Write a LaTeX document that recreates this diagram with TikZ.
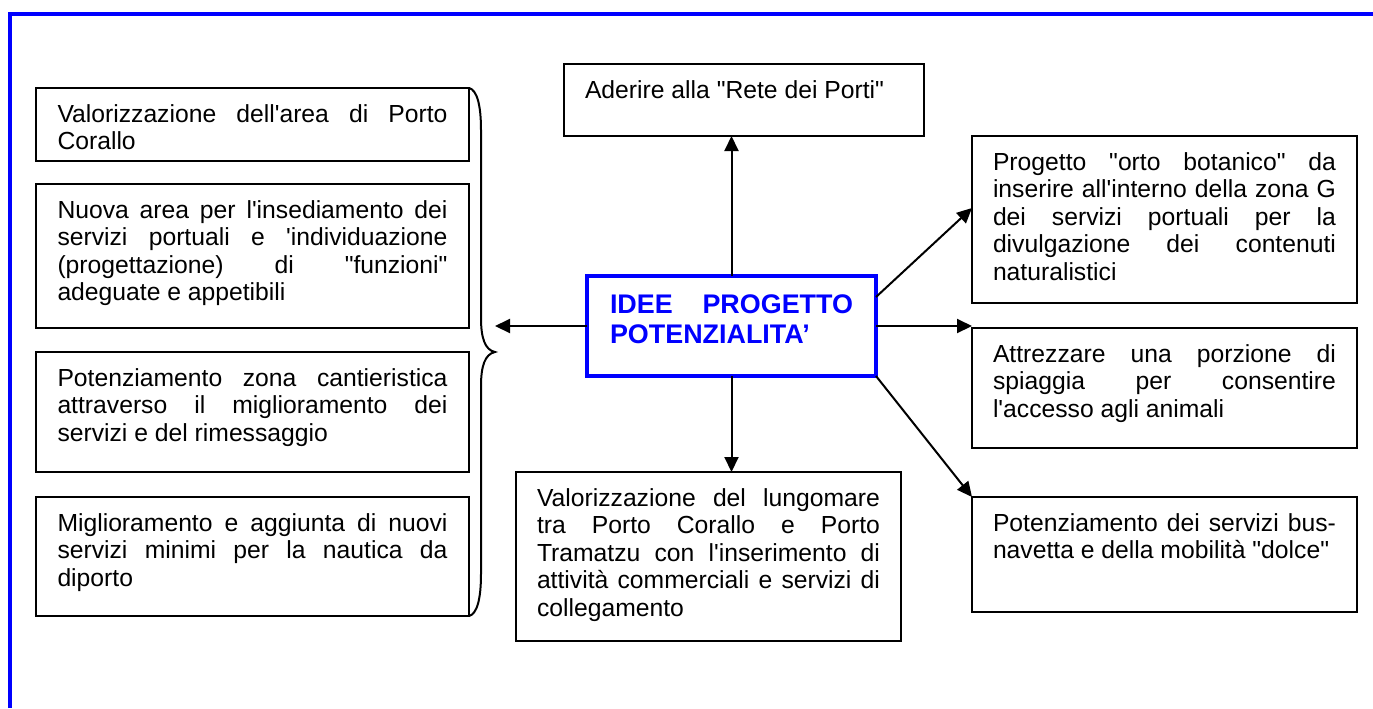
\documentclass[tikz,border=0pt]{standalone}
\usetikzlibrary{arrows.meta,calc}
\font\arialf="Liberation Sans" at 12.35pt
\font\arialbf="Liberation Sans/B" at 13.45pt
\newcommand\tb[3]{\parbox[t][#2][t]{#1}{\baselineskip=13.8pt\lineskiplimit=-20pt #3}}
\newcommand\jl[1]{\hbox to\linewidth{\rule{0pt}{9pt}#1}}
\newcommand\lastl[1]{\hbox to\linewidth{\rule{0pt}{9pt}#1\hfil}}
\begin{document}
\begin{tikzpicture}[x=0.5pt,y=-0.5pt,
  box/.style={draw, line width=1pt, anchor=north west, inner xsep=10.5pt, inner ysep=8pt, outer sep=0pt, font=\arialf},
  lbox/.style={box, inner xsep=10.75pt},
  cbox/.style={draw=blue, line width=1.7pt, text=blue, anchor=north west, inner xsep=11.5pt, inner ysep=8.5pt, outer sep=0pt, font=\arialbf},
  arr/.style={line width=1pt, -{Triangle[length=7.5pt,width=7pt]}},
  frame/.style={draw=blue, line width=2pt},
  brace/.style={line width=1pt}]
\useasboundingbox (0,0) rectangle (1373,708);
\draw[frame] (10,708) -- (10,14) -- (1373,14);

% left column
\node[lbox] (L1) at (36,88) {\tb{195pt}{20.5pt}{\jl{Valorizzazione dell'area di Porto}\lastl{Corallo}}};
\node[lbox] (L2) at (36,184) {\tb{195pt}{56pt}{\jl{Nuova area per l'insediamento dei}\jl{servizi portuali e 'individuazione}\jl{(progettazione) di "funzioni"}\lastl{adeguate e appetibili}}};
\node[lbox] (L3) at (36,352) {\tb{195pt}{44pt}{\jl{Potenziamento zona cantieristica}\jl{attraverso il miglioramento dei}\lastl{servizi e del rimessaggio}}};
\node[lbox] (L4) at (36,497) {\tb{195pt}{43.5pt}{\jl{Miglioramento e aggiunta di nuovi}\jl{servizi minimi per la nautica da}\lastl{diporto}}};

% top and bottom
\node[box] (T) at (564,64) {\tb{159pt}{20pt}{\lastl{Aderire alla "Rete dei Porti"}}};
\node[box] (B) at (516,472) {\tb{171.5pt}{68.5pt}{\jl{Valorizzazione del lungomare}\jl{tra Porto Corallo e Porto}\jl{Tramatzu con l'inserimento di}\jl{attività commerciali e servizi di}\lastl{collegamento}}};

% right column
\node[box] (R1) at (972,136) {\tb{171.5pt}{67.5pt}{\jl{Progetto "orto botanico" da}\jl{inserire all'interno della zona G}\jl{dei servizi portuali per la}\jl{divulgazione dei contenuti}\lastl{naturalistici}}};
\node[box] (R2) at (972,328) {\tb{171.5pt}{44pt}{\jl{Attrezzare una porzione di}\jl{spiaggia per consentire}\lastl{l'accesso agli animali}}};
\node[box] (R3) at (972,497) {\tb{171.5pt}{41.5pt}{\jl{Potenziamento dei servizi bus-}\lastl{navetta e della mobilità "dolce"}}};

% centre
\node[cbox] (C) at (587,276) {\parbox[t][33pt][t]{121.5pt}{\baselineskip=15pt\hbox to\linewidth{\rule{0pt}{10pt}IDEE PROGETTO}\hbox to\linewidth{\rule{0pt}{10pt}POTENZIALITA’\hfil}}};

% brace
\coordinate (bt) at (495,352);
\draw[brace] (L1.north east) .. controls (477,90) and (481,105) .. (481,130) -- (481,318) .. controls (481,338) and (485,350) .. (bt) .. controls (485,354) and (481,366) .. (481,386) -- (481,574) .. controls (481,599) and (477,614) .. (L4.south east);

% connectors
\draw[arr] (C.north) -- (C.north |- T.south);
\draw[arr] (C.south) -- (C.south |- B.north);
\draw[arr] (C.west) -- (C.west -| bt);
\draw[arr] (C.east) -- (C.east -| R2.west);
\draw[arr] ($(C.north east)+(0,21)$) -- ($(R1.west)+(0,-11.5)$);
\draw[arr] (C.south east) -- (R3.north west);
\end{tikzpicture}
\end{document}
